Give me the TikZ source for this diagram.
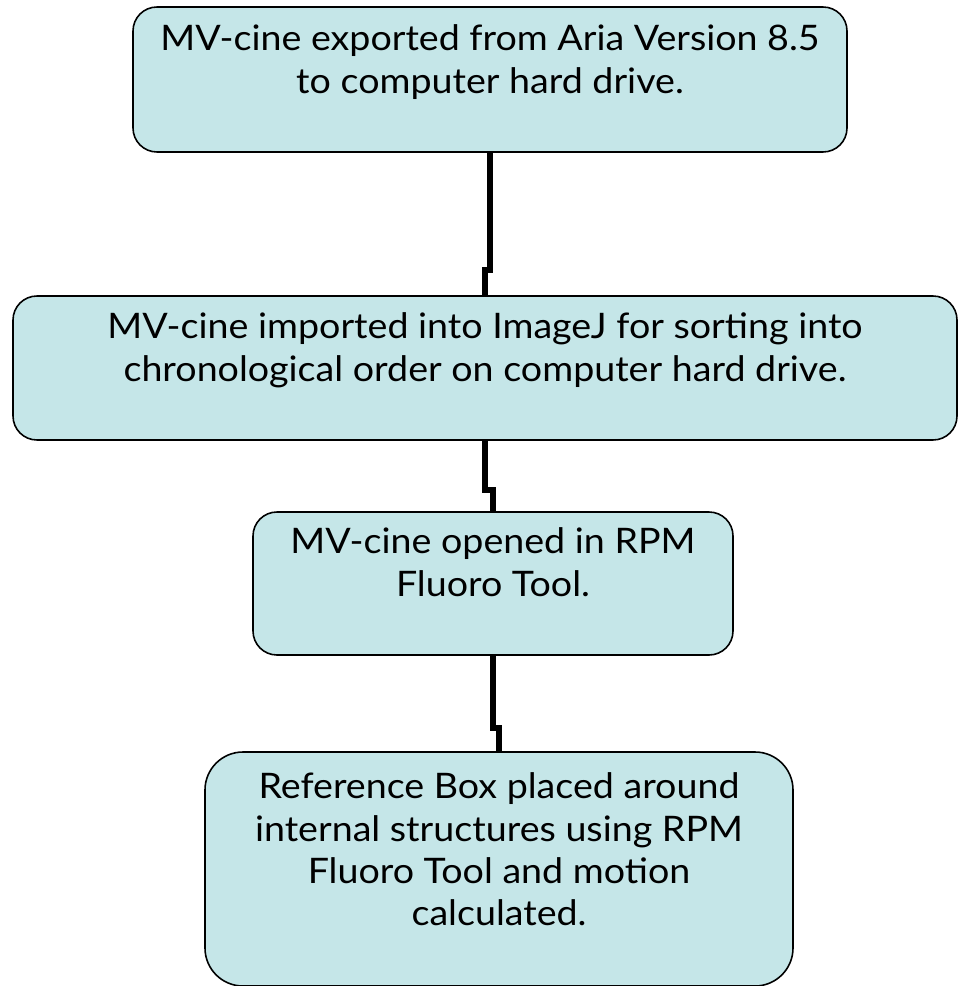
\documentclass[tikz,border=0pt]{standalone}
\usepackage{fontspec}
\setmainfont{Lato}[FakeStretch=1.07]
\definecolor{boxfill}{RGB}{197,230,232}
\begin{document}
\begin{tikzpicture}[
	stepbox/.style = {draw = black, line width = 0.9pt, fill = boxfill, rounded corners = 0.48cm, inner sep = 0pt},
	steptext/.style = {align = center, inner sep = 0pt, anchor = north, font = \fontsize{20}{24}\selectfont},
	link/.style = {line width = 3.4pt, black}
	]
	\useasboundingbox (0, 0) rectangle (19.16, -19.72);
	
	%	Boxes
	\node[stepbox, minimum width = 14.28cm, minimum height = 2.90cm] (box1) at (9.80, -1.59) {};
	\node[stepbox, minimum width = 18.88cm, minimum height = 2.88cm] (box2) at (9.70, -7.36) {};
	\node[stepbox, minimum width = 9.60cm, minimum height = 2.86cm] (box3) at (9.86, -11.67) {};
	\node[stepbox, minimum width = 11.76cm, minimum height = 4.68cm, rounded corners = 0.76cm] (box4) at (9.98, -17.38) {};
	
	%	Texts
	\node[steptext] (t1) at ([yshift = -0.37cm]box1.north) {MV-cine exported from Aria Version 8.5\\to computer hard drive.};
	\node[steptext] (t2) at ([yshift = -0.35cm]box2.north) {MV-cine imported into ImageJ for sorting into\\chronological order on computer hard drive.};
	\node[steptext] (t3) at ([yshift = -0.33cm]box3.north) {MV-cine opened in RPM\\Fluoro Tool.};
	\node[steptext] (t4) at ([yshift = -0.43cm]box4.north) {Reference Box placed around\\internal structures using RPM\\Fluoro Tool and motion\\calculated.};
	
	%	Jogs of the connectors
	\coordinate (j1) at (9.70, -5.40);
	\coordinate (j2) at (9.86, -9.80);
	\coordinate (j3) at (9.98, -14.56);
	
	%	Connectors
	\draw[link] (box1.south) |- (j1) -| (box2.north);
	\draw[link] (box2.south) |- (j2) -| (box3.north);
	\draw[link] (box3.south) |- (j3) -| (box4.north);
\end{tikzpicture}
\end{document}
